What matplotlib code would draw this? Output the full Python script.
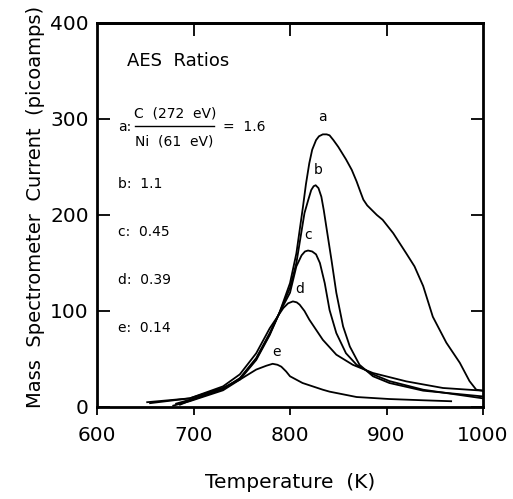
import matplotlib
matplotlib.use("Agg")
import matplotlib.pyplot as plt

# Temperature (K) / current (picoamps)
a_T = [679, 696, 730.6, 748, 765, 779, 789, 800, 806.6, 813.5, 816.5, 820, 823, 827, 830, 834,
       838, 841, 845, 850, 858, 864, 869, 873, 876, 880, 884, 890, 896, 907, 920.5, 929, 938,
       948, 962, 976, 986, 993, 1000]
a_I = [1.4, 6, 17.4, 28.5, 49, 75, 98, 129, 160, 209, 232, 254, 268, 278, 282, 284,
       284, 283, 278, 271, 258, 247, 235, 224, 216, 210, 206, 200, 195, 181, 160, 146.5, 126,
       94, 67, 46, 27, 18, 17]

b_T = [686, 696, 730.6, 748, 765, 779, 789, 800, 806.6, 815, 819, 822, 824.5, 826.6, 829.5,
       832.5, 835, 837.6, 843, 848, 855, 862, 872, 886, 903, 938, 1000]
b_I = [2.4, 6.5, 18.5, 29.5, 50, 76, 98, 124, 150, 202, 216, 226, 230, 231, 228,
       219, 205, 188, 153, 119, 84, 63, 44, 32, 25, 17, 11]

c_T = [682, 696, 730.6, 748, 765, 779, 789, 800, 806.6, 812, 815.5, 818.7, 823, 827, 831, 836,
       841, 848, 858, 869, 886, 903, 938, 1000]
c_I = [3.5, 7.5, 19, 30, 51, 77, 98, 119, 146.5, 158, 162, 163, 162, 159, 150, 129,
       101, 77, 56, 44, 34, 27, 18, 9]

d_T = [655, 696, 730.6, 748, 765, 779, 793, 798, 803, 807, 810, 815, 820, 834, 848, 865, 886,
       920.5, 958.5, 1000]
d_I = [4, 9, 21.5, 34, 56, 82, 103, 108, 110, 109, 106.6, 100, 91, 70, 54.5, 44, 35.4,
       26.7, 19.8, 17]

e_T = [652, 696, 730.6, 748, 765, 775.5, 782, 787, 791, 796, 800, 813, 834, 841, 869, 903,
       938, 967]
e_I = [5, 9, 20, 28.5, 39, 43, 45, 44, 42, 37, 32, 25, 18, 16, 10.4, 8.3,
       7, 6]

series = [(a_T, a_I), (b_T, b_I), (c_T, c_I), (d_T, d_I), (e_T, e_I)]

# curve letters and where they sit
letters = ["a", "b", "c", "d", "e"]
letter_T = [834, 829, 819, 810, 786]
letter_I = [302, 247, 179, 123, 57]

# ratio legend on the left
ratio_labels = ["b:  1.1", "c:  0.45", "d:  0.39", "e:  0.14"]
ratio_I = [232, 182, 132, 82]

fig = plt.figure(figsize=(5.13, 4.99), dpi=100)
ax = fig.add_axes([97 / 513, 1 - 407 / 499, 386 / 513, 384 / 499])

for T, I in series:
    ax.plot(T, I, color="black", linewidth=1.3, solid_joinstyle="round")

for lab, t, i in zip(letters, letter_T, letter_I):
    ax.text(t, i, lab, fontsize=10, ha="center", va="center")

ax.text(630.7, 360, "AES  Ratios", fontsize=13, ha="left", va="center")

# a: fraction
ax.text(621.8, 292, "a:", fontsize=10, ha="left", va="center")
ax.text(681, 306, "C  (272  eV)", fontsize=10, ha="center", va="center")
ax.plot([639, 721], [293, 293], color="black", linewidth=1.0)
ax.text(680, 277, "Ni  (61  eV)", fontsize=10, ha="center", va="center")
ax.text(730.6, 292, "=  1.6", fontsize=10, ha="left", va="center")

for lab, i in zip(ratio_labels, ratio_I):
    ax.text(621.8, i, lab, fontsize=10, ha="left", va="center")

ax.set_xlim(600, 1000)
ax.set_ylim(0, 400)
ax.set_xticks([600, 700, 800, 900, 1000])
ax.set_yticks([0, 100, 200, 300, 400])

for s in ax.spines.values():
    s.set_linewidth(2)

ax.tick_params(axis="x", which="both", bottom=True, top=False, direction="out",
               length=6, width=1.3, labelsize=14.5, pad=8)
ax.tick_params(axis="y", which="both", left=True, right=True, direction="in",
               length=9, width=1.3, labelsize=14.5, pad=6)
# top ticks point inward
ax_top = ax.secondary_xaxis("top")
ax_top.set_xticks([700, 800, 900])
ax_top.tick_params(direction="in", length=9, width=1.3, labeltop=False)
ax_top.spines["top"].set_linewidth(2)

ax.set_xlabel("Temperature  (K)", fontsize=14.5)
ax.set_ylabel("Mass  Spectrometer  Current  (picoamps)", fontsize=14)
ax.xaxis.set_label_coords(0.5, -0.172)
ax.yaxis.set_label_coords(-0.135, 0.52)

fig.savefig("out.png", dpi=100)
